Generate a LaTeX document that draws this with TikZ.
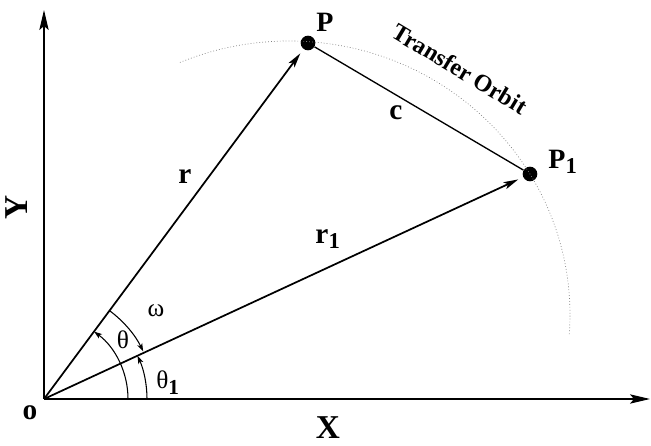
\documentclass[tikz,border=0pt]{standalone}
\usepackage{fontspec}
\setmainfont{Liberation Serif}
\usetikzlibrary{arrows.meta}
\begin{document}
\begin{tikzpicture}[x=0.75pt,y=0.75pt,
  axis/.style={line width=1.1pt,-{Stealth[length=15pt,width=7pt,inset=3pt]}},
  vec/.style={line width=1.3pt,-{Stealth[length=11pt,width=5.5pt,inset=2.5pt]},shorten >=4pt},
  chord/.style={line width=1pt},
  angarc/.style={line width=0.8pt,-{Stealth[length=6pt,width=4pt,inset=1.5pt]}},
  orbit/.style={line width=0.5pt,gray,dash pattern=on 0.6pt off 1.6pt},
  dot/.style={circle,fill=black,inner sep=0pt,minimum size=11pt},
  lbl/.style={font=\bfseries\fontsize{22}{24}\selectfont,inner sep=0pt},
  greek/.style={font=\fontsize{19}{21}\selectfont,inner sep=0pt}]
\useasboundingbox (0,0) rectangle (651,446);
% nodes
\coordinate (O) at (44,47);
\coordinate (Ytop) at (44,436);
\coordinate (Xend) at (650,47);
\node[dot] (P) at (308,403) {};
\node[dot] (P1) at (530,272) {};
% orbit
\draw[orbit] (569.3,111.9) arc[start angle=-4,end angle=113,x radius=281,y radius=274];
% axes
\draw[axis] (O) -- (Ytop);
\draw[axis] (O) -- (Xend);
% vectors
\draw[vec] (O) -- (P);
\draw[vec] (O) -- (P1);
\draw[chord] (P) -- (P1);
% angle arcs
\draw[angarc] ([shift={(0:84)}]O) arc[start angle=0,end angle=53.4,radius=84];
\draw[angarc] ([shift={(0:103)}]O) arc[start angle=0,end angle=24.8,radius=103];
\draw[angarc] ([shift={(53.4:110)}]O) arc[start angle=53.4,end angle=25.6,radius=110];
% labels
\node[lbl] (lo) at (30,33) {o};
\node[lbl,font=\bfseries\fontsize{25}{27}\selectfont] (lX) at (328,18) {X};
\node[lbl,font=\bfseries\fontsize{25}{27}\selectfont,rotate=90] (lY) at (17,239) {Y};
\node[lbl,font=\bfseries\fontsize{21}{23}\selectfont] (lP) at (325,424) {P};
\node[lbl,font=\bfseries\fontsize{21}{23}\selectfont] (lP1) at (563,284) {P\textsubscript{\fontsize{17}{19}\selectfont 1}};
\node[lbl] (lr) at (185,269) {r};
\node[lbl] (lr1) at (328,207) {r\textsubscript{\fontsize{17}{19}\selectfont 1}};
\node[lbl] (lc) at (396,333) {c};
\node[lbl,font=\bfseries\fontsize{18}{20}\selectfont,rotate=-31] (lorb) at (460,377) {Transfer Orbit};
\node[greek] (lw) at (156,135) {ω};
\node[greek] (lt) at (123,106) {θ};
\node[greek] (lt1) at (168,63) {θ\textsubscript{\bfseries\fontsize{16}{18}\selectfont 1}};
\end{tikzpicture}
\end{document}
